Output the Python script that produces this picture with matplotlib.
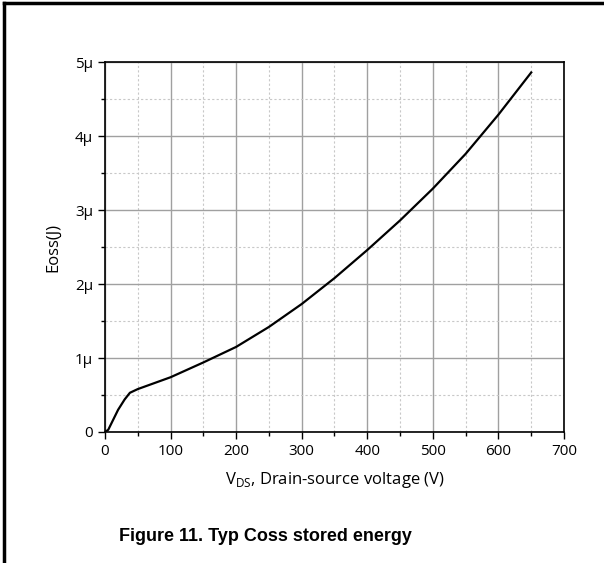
import matplotlib
matplotlib.use('Agg')
import matplotlib.pyplot as plt
from matplotlib.ticker import MultipleLocator, FuncFormatter
from matplotlib.lines import Line2D

# Eoss vs VDS
vds = [0, 5, 10, 20, 30, 38, 50, 75, 100, 150, 200, 250, 300, 350, 400, 450, 500, 550, 600, 650]
eoss_uj = [0, 0.03, 0.12, 0.30, 0.44, 0.53, 0.58, 0.66, 0.74, 0.94, 1.15, 1.42, 1.73, 2.08, 2.46, 2.86, 3.29, 3.76, 4.29, 4.86]
eoss = [e * 1e-6 for e in eoss_uj]

TICK_FONT = 'Open Sans'

fig = plt.figure(figsize=(6.04, 5.63), dpi=100)
ax = fig.add_axes([0.1738, 0.2327, 0.76, 0.657])

ax.plot(vds, eoss, color='black', linewidth=1.6)

ax.set_xlim(0, 700)
ax.set_ylim(0, 5e-6)
ax.xaxis.set_major_locator(MultipleLocator(100))
ax.xaxis.set_minor_locator(MultipleLocator(50))
ax.yaxis.set_major_locator(MultipleLocator(1e-6))
ax.yaxis.set_minor_locator(MultipleLocator(0.5e-6))
ax.yaxis.set_major_formatter(FuncFormatter(lambda v, p: '0' if abs(v) < 1e-12 else f'{v*1e6:.0f}\u03bc'))

ax.grid(True, which='major', color='#a0a0a0', linewidth=1.0)
ax.grid(True, which='minor', color='#c8c8c8', linewidth=0.8, linestyle=(0, (2, 2)))
ax.set_axisbelow(True)

ax.tick_params(which='major', direction='out', length=5, width=1, labelsize=11)
ax.tick_params(which='minor', direction='out', length=3, width=1)
for lab in ax.get_xticklabels() + ax.get_yticklabels():
    lab.set_family(TICK_FONT)
for s in ax.spines.values():
    s.set_linewidth(1.2)

ax.set_xlabel('V$_{\\mathregular{DS}}$, Drain-source voltage (V)', fontsize=12, family=TICK_FONT, labelpad=8)
ax.set_ylabel('Eoss(J)', fontsize=12, family=TICK_FONT, labelpad=10)

fig.text(0.44, 0.047, 'Figure 11. Typ Coss stored energy', ha='center', va='center',
         fontsize=13, fontweight='bold', family='Liberation Sans')

# page frame lines
fig.add_artist(Line2D([0.007, 0.007], [0, 0.995], transform=fig.transFigure, color='black', linewidth=2.5))
fig.add_artist(Line2D([0.007, 1.0], [0.995, 0.995], transform=fig.transFigure, color='black', linewidth=2.5))

fig.savefig('out.png', dpi=100)
